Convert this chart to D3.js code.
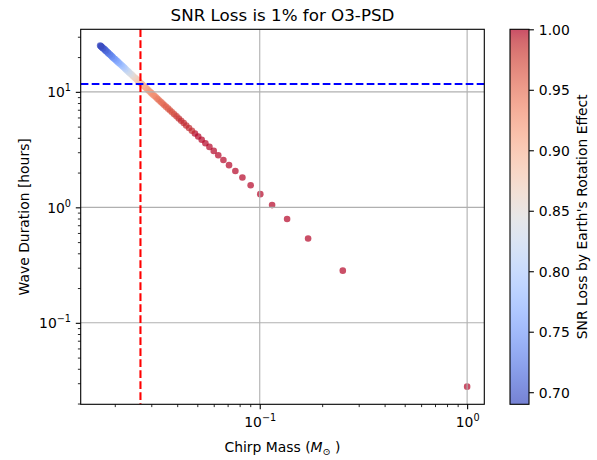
<!DOCTYPE html>
<html>
<head>
<meta charset="utf-8">
<title>SNR Loss</title>
<script src="https://cdn.jsdelivr.net/npm/d3@7/dist/d3.min.js"></script>
<style>
    html, body {
        margin: 0;
        padding: 0;
        background: #fff;
    }
    svg text {
        font-family: "DejaVu Sans", sans-serif;
        fill: #000;
    }
</style>
</head>
<body>
<div id="chart"></div>
<script>
// chirp mass [M_sun], wave duration [hours], SNR loss factor
const chirpMass = [
    1.00, 0.2515, 0.1711, 0.1355, 0.1147, 0.1006, 0.0904, 0.0825, 0.0763, 0.0711,
    0.0668, 0.0631, 0.0600, 0.0572, 0.0547, 0.0525, 0.0505, 0.0487, 0.0471, 0.0456,
    0.0442, 0.0430, 0.0418, 0.0407, 0.0397, 0.0387, 0.0378, 0.0370, 0.0362, 0.0354,
    0.0347, 0.0340, 0.0334, 0.0328, 0.0322, 0.0317, 0.0311, 0.0306, 0.0301, 0.0297,
    0.0292, 0.0288, 0.0284, 0.0280, 0.0276, 0.0272, 0.0269, 0.0265, 0.0262, 0.0259,
    0.0256, 0.0253, 0.0250, 0.0247, 0.0244, 0.0242, 0.0239, 0.0236, 0.0234, 0.0232,
    0.0229, 0.0227, 0.0225, 0.0223, 0.0221, 0.0219, 0.0217, 0.0215, 0.0213, 0.0211,
    0.0209, 0.0207, 0.0206, 0.0204, 0.0202, 0.0201, 0.0199, 0.0197, 0.0196, 0.0194,
    0.0193, 0.0192, 0.0190, 0.0189, 0.0187, 0.0186, 0.0185, 0.0184, 0.0182, 0.0181,
    0.0180, 0.0179, 0.0178, 0.0176, 0.0175, 0.0174, 0.0173, 0.0172, 0.0171, 0.0170
];
const durationHours = [
    0.028, 0.283, 0.537, 0.792, 1.046, 1.301, 1.555, 1.810, 2.064, 2.319,
    2.573, 2.828, 3.082, 3.337, 3.591, 3.846, 4.100, 4.355, 4.609, 4.864,
    5.118, 5.373, 5.627, 5.882, 6.136, 6.391, 6.645, 6.900, 7.154, 7.409,
    7.663, 7.918, 8.172, 8.427, 8.681, 8.936, 9.190, 9.445, 9.699, 9.954,
    10.21, 10.46, 10.72, 10.97, 11.23, 11.48, 11.74, 11.99, 12.24, 12.50,
    12.75, 13.01, 13.26, 13.52, 13.77, 14.03, 14.28, 14.53, 14.79, 15.04,
    15.30, 15.55, 15.81, 16.06, 16.32, 16.57, 16.83, 17.08, 17.33, 17.59,
    17.84, 18.10, 18.35, 18.61, 18.86, 19.12, 19.37, 19.62, 19.88, 20.13,
    20.39, 20.64, 20.90, 21.15, 21.41, 21.66, 21.92, 22.17, 22.42, 22.68,
    22.93, 23.19, 23.44, 23.70, 23.95, 24.21, 24.46, 24.71, 24.97, 25.22
];
const snrLoss = [
    1.00, 1.00, 1.00, 1.00, 1.00, 1.00, 1.00, 1.00, 1.00, 1.00,
    1.00, 1.00, 1.00, 1.00, 1.00, 1.00, 1.00, 1.00, 0.99, 0.99,
    0.99, 0.99, 0.99, 0.99, 0.98, 0.98, 0.97, 0.97, 0.97, 0.96,
    0.96, 0.96, 0.95, 0.95, 0.95, 0.94, 0.94, 0.93, 0.93, 0.93,
    0.92, 0.92, 0.92, 0.91, 0.91, 0.90, 0.90, 0.89, 0.89, 0.88,
    0.88, 0.87, 0.87, 0.86, 0.86, 0.85, 0.84, 0.84, 0.83, 0.83,
    0.82, 0.82, 0.81, 0.81, 0.80, 0.80, 0.79, 0.79, 0.78, 0.78,
    0.77, 0.77, 0.77, 0.76, 0.76, 0.76, 0.75, 0.75, 0.75, 0.74,
    0.74, 0.74, 0.73, 0.73, 0.73, 0.73, 0.72, 0.72, 0.72, 0.71,
    0.71, 0.71, 0.71, 0.70, 0.70, 0.70, 0.70, 0.69, 0.69, 0.69
];

// reference lines: 1% SNR loss threshold
const thresholdMass = 0.0266;
const thresholdDuration = 11.7;

// axis ticks
const xMajorTicks = [0.1, 1];
const xMinorTicks = [0.02, 0.03, 0.04, 0.05, 0.06, 0.07, 0.08, 0.09,
                     0.2, 0.3, 0.4, 0.5, 0.6, 0.7, 0.8, 0.9];
const yMajorTicks = [0.1, 1, 10];
const yMinorTicks = [0.02, 0.03, 0.04, 0.05, 0.06, 0.07, 0.08, 0.09,
                     0.2, 0.3, 0.4, 0.5, 0.6, 0.7, 0.8, 0.9,
                     2, 3, 4, 5, 6, 7, 8, 9, 20, 30];
const cbarTicks = [0.70, 0.75, 0.80, 0.85, 0.90, 0.95, 1.00];

// matplotlib "coolwarm" (Moreland) table
const coolwarmStops = [
    [59, 76, 192], [68, 90, 204], [77, 104, 215], [87, 117, 225], [98, 130, 234],
    [108, 142, 241], [119, 154, 247], [130, 165, 251], [141, 176, 254], [152, 185, 255],
    [163, 194, 255], [174, 201, 253], [184, 208, 249], [194, 213, 244], [204, 217, 238],
    [213, 219, 230], [221, 221, 221], [229, 216, 209], [236, 211, 197], [241, 204, 184],
    [245, 196, 172], [247, 187, 160], [247, 177, 148], [247, 166, 135], [244, 154, 123],
    [241, 141, 111], [236, 127, 99], [229, 112, 88], [222, 96, 77], [213, 80, 66],
    [203, 62, 56], [192, 40, 47], [180, 4, 38]
].map(c => d3.rgb(...c).toString());
const coolwarm = d3.piecewise(d3.interpolateRgb, coolwarmStops);

const width = 597, height = 460;
const pLeft = 80.7, pRight = 484.3, pTop = 29.3, pBottom = 404.3;
const cbLeft = 510, cbRight = 529;
const alpha = 0.7;

const x = d3.scaleLog([0.0137, 1.21], [pLeft, pRight]);
const y = d3.scaleLog([0.0197, 34.8], [pBottom, pTop]);
const snrDomain = d3.extent(snrLoss);
const color = d3.scaleSequential(snrDomain, coolwarm);
const cbScale = d3.scaleLinear(snrDomain, [pBottom, pTop]);

const points = chirpMass.map((m, i) => ({m, d: durationHours[i], s: snrLoss[i]}));

const svg = d3.select("#chart").append("svg")
    .attr("width", width)
    .attr("height", height)
    .attr("viewBox", [0, 0, width, height]);

const defs = svg.append("defs");
defs.append("clipPath").attr("id", "plotclip")
    .append("rect")
    .attr("x", pLeft).attr("y", pTop)
    .attr("width", pRight - pLeft).attr("height", pBottom - pTop);

const plot = svg.append("g").attr("clip-path", "url(#plotclip)");

// scatter
plot.append("g")
    .selectAll("circle")
    .data(points)
    .join("circle")
    .attr("cx", p => x(p.m))
    .attr("cy", p => y(p.d))
    .attr("r", 3.3)
    .attr("fill", p => color(p.s))
    .attr("fill-opacity", alpha);

// grid (drawn above the scatter, like matplotlib)
plot.append("g")
    .selectAll("line")
    .data(xMajorTicks)
    .join("line")
    .attr("x1", d => x(d)).attr("x2", d => x(d))
    .attr("y1", pTop).attr("y2", pBottom)
    .attr("stroke", "#b0b0b0").attr("stroke-width", 1.1);
plot.append("g")
    .selectAll("line")
    .data(yMajorTicks)
    .join("line")
    .attr("y1", d => y(d)).attr("y2", d => y(d))
    .attr("x1", pLeft).attr("x2", pRight)
    .attr("stroke", "#b0b0b0").attr("stroke-width", 1.1);

// threshold lines
plot.append("line")
    .attr("x1", x(thresholdMass)).attr("x2", x(thresholdMass))
    .attr("y1", pTop).attr("y2", pBottom)
    .attr("stroke", "#ff0000").attr("stroke-width", 2.1)
    .attr("stroke-dasharray", "7.7,3.3");
plot.append("line")
    .attr("x1", pLeft).attr("x2", pRight)
    .attr("y1", y(thresholdDuration)).attr("y2", y(thresholdDuration))
    .attr("stroke", "#0000ff").attr("stroke-width", 2.1)
    .attr("stroke-dasharray", "7.7,3.3");

// power-of-ten labels with superscript exponent
function powLabel(sel) {
    sel.text(null).each(function (d) {
        const e = Math.round(Math.log10(d));
        const t = d3.select(this);
        t.append("tspan").text("10");
        t.append("tspan")
            .attr("dy", -6)
            .style("font-size", "9.7px")
            .text(String(e).replace("-", "\u2212"));
    });
}

function styleAxis(g) {
    g.attr("font-family", null).attr("font-size", null);
    g.select(".domain").remove();
    g.selectAll(".tick line").attr("stroke", "#000").attr("stroke-width", 1.1);
}

// x axis
svg.append("g")
    .attr("transform", `translate(0,${pBottom})`)
    .call(d3.axisBottom(x).tickValues(xMinorTicks).tickSize(2.8).tickFormat(() => ""))
    .call(styleAxis)
    .call(g => g.selectAll(".tick line").attr("stroke-width", 0.85));
svg.append("g")
    .attr("transform", `translate(0,${pBottom})`)
    .call(d3.axisBottom(x).tickValues(xMajorTicks).tickSize(4.9).tickPadding(4.9))
    .call(styleAxis)
    .call(g => g.selectAll(".tick text")
        .attr("y", 23).attr("dy", null)
        .style("font-size", "13.9px")
        .call(powLabel));

// y axis
svg.append("g")
    .attr("transform", `translate(${pLeft},0)`)
    .call(d3.axisLeft(y).tickValues(yMinorTicks).tickSize(2.8).tickFormat(() => ""))
    .call(styleAxis)
    .call(g => g.selectAll(".tick line").attr("stroke-width", 0.85));
svg.append("g")
    .attr("transform", `translate(${pLeft},0)`)
    .call(d3.axisLeft(y).tickValues(yMajorTicks).tickSize(4.9).tickPadding(4.9))
    .call(styleAxis)
    .call(g => g.selectAll(".tick text")
        .attr("x", -9.7).attr("dy", null).attr("y", 5)
        .style("font-size", "13.9px")
        .call(powLabel));

// frame
svg.append("rect")
    .attr("x", pLeft).attr("y", pTop)
    .attr("width", pRight - pLeft).attr("height", pBottom - pTop)
    .attr("fill", "none").attr("stroke", "#000").attr("stroke-width", 1.1);

// title and axis labels
svg.append("text")
    .attr("x", (pLeft + pRight) / 2).attr("y", 21)
    .attr("text-anchor", "middle")
    .style("font-size", "16.7px")
    .text("SNR Loss is 1% for O3-PSD");

const xl = svg.append("text")
    .attr("x", (pLeft + pRight) / 2).attr("y", 452)
    .attr("text-anchor", "middle")
    .style("font-size", "13.9px");
xl.append("tspan").text("Chirp Mass (");
xl.append("tspan").style("font-style", "italic").text("M");
xl.append("tspan").attr("dy", 3).style("font-size", "9.7px").text("\u2299");
xl.append("tspan").attr("dy", -3).text(" )");

svg.append("text")
    .attr("transform", `translate(29,${(pTop + pBottom) / 2}) rotate(-90)`)
    .attr("text-anchor", "middle")
    .style("font-size", "13.9px")
    .text("Wave Duration [hours]");

// colorbar
const grad = defs.append("linearGradient")
    .attr("id", "cbgrad")
    .attr("x1", 0).attr("y1", 1).attr("x2", 0).attr("y2", 0);
grad.selectAll("stop")
    .data(coolwarmStops)
    .join("stop")
    .attr("offset", (c, i) => i / (coolwarmStops.length - 1))
    .attr("stop-color", c => c)
    .attr("stop-opacity", alpha);

svg.append("rect")
    .attr("x", cbLeft).attr("y", pTop)
    .attr("width", cbRight - cbLeft).attr("height", pBottom - pTop)
    .attr("fill", "url(#cbgrad)")
    .attr("stroke", "#000").attr("stroke-width", 1.1);

svg.append("g")
    .attr("transform", `translate(${cbRight},0)`)
    .call(d3.axisRight(cbScale).tickValues(cbarTicks).tickSize(4.9).tickPadding(4.9)
        .tickFormat(d3.format(".2f")))
    .call(styleAxis)
    .call(g => g.selectAll(".tick text")
        .attr("dy", null).attr("y", 5)
        .style("font-size", "13.9px"));

svg.append("text")
    .attr("transform", `translate(587,${(pTop + pBottom) / 2}) rotate(-90)`)
    .attr("text-anchor", "middle")
    .style("font-size", "13.9px")
    .text("SNR Loss by Earth's Rotation Effect");
</script>
</body>
</html>
